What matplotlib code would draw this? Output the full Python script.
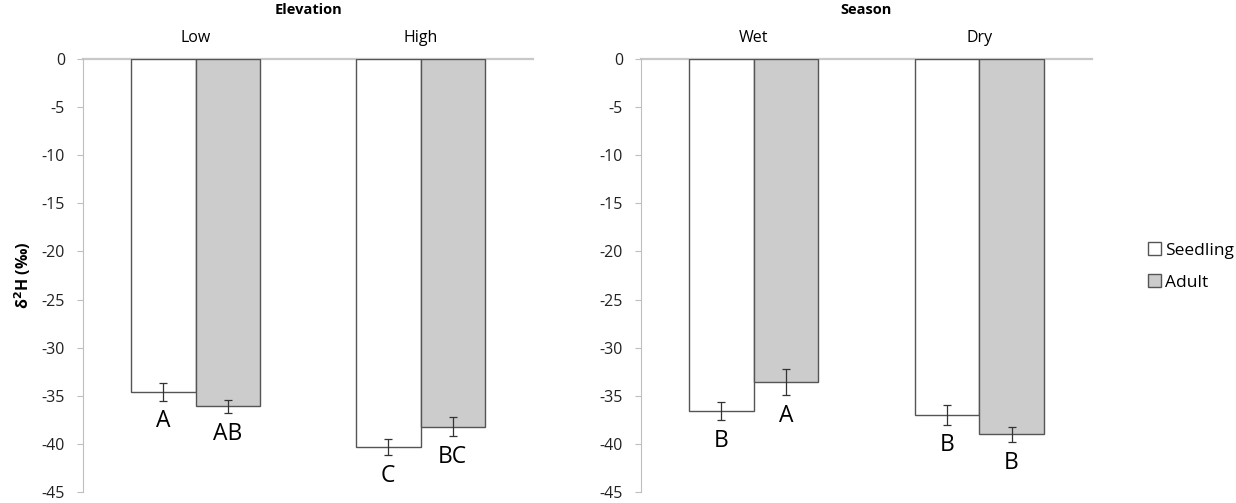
import numpy as np
import matplotlib
matplotlib.use('Agg')
import matplotlib.pyplot as plt
from matplotlib.patches import Patch

plt.rcParams['font.family'] = ['Open Sans', 'DejaVu Sans']

# data
series = ['Seedling', 'Adult']
colors = ['white', '#cccccc']

elev_cats = ['Low', 'High']
elev_mean = [[-34.6, -40.35], [-36.1, -38.2]]   # seedling, adult
elev_err = [[0.9, 0.85], [0.7, 1.0]]
elev_letters = [['A', 'C'], ['AB', 'BC']]

season_cats = ['Wet', 'Dry']
season_mean = [[-36.6, -37.0], [-33.6, -39.0]]
season_err = [[0.95, 1.0], [1.35, 0.8]]
season_letters = [['B', 'B'], ['A', 'B']]

yticks = np.arange(-45, 1, 5)

fig = plt.figure(figsize=(12.36, 5.03), dpi=100)
ax1 = fig.add_axes([83/1236, 1 - 492/503, 450/1236, 433/503])
ax2 = fig.add_axes([641/1236, 1 - 492/503, 451/1236, 433/503])

bw = 0.287  # bar width as fraction of category


def draw(ax, cats, means, errs, letters, title, ylabel=None):
    x = np.arange(len(cats))
    for i in range(len(series)):
        xs = x + (i - 0.5) * bw
        ax.bar(xs, means[i], bw, color=colors[i], edgecolor='#555555',
               linewidth=1.0, zorder=2)
        ax.errorbar(xs, means[i], yerr=errs[i], fmt='none', ecolor='#333333',
                    elinewidth=0.9, capsize=3, capthick=0.9, zorder=3)
        for xx, m, e, lab in zip(xs, means[i], errs[i], letters[i]):
            ax.text(xx, m - e - 0.9, lab, ha='center', va='top', fontsize=16.5,
                    color='black')
    ax.set_xlim(-0.5, len(cats) - 0.5)
    ax.set_ylim(-45, 0)
    ax.set_yticks(yticks)
    ax.set_yticklabels([str(t) for t in yticks])
    ax.xaxis.tick_top()
    ax.set_xticks(x)
    ax.set_xticklabels(cats, fontsize=11.5)
    ax.tick_params(axis='x', length=0, pad=9)
    ax.tick_params(axis='y', length=4, width=0.8, color='#bfbfbf', pad=9,
                   labelsize=11.5, labelcolor='#222222')
    for s in ['right', 'bottom']:
        ax.spines[s].set_visible(False)
    ax.spines['left'].set_color('#bfbfbf')
    ax.spines['top'].set_color('#c8c8c8')
    ax.spines['top'].set_linewidth(1.6)
    ax.spines['top'].set_zorder(1)
    ax.annotate(title, xy=(0.5, 1), xycoords='axes fraction',
                xytext=(0, 35), textcoords='offset points', ha='center',
                va='center', fontsize=10.5, fontweight='bold')
    if ylabel:
        ax.set_ylabel(ylabel, fontsize=11.5, fontweight='bold', labelpad=6)


draw(ax1, elev_cats, elev_mean, elev_err, elev_letters, 'Elevation',
     ylabel='δ$^{\\mathbf{2}}$H (‰)')
draw(ax2, season_cats, season_mean, season_err, season_letters, 'Season')

handles = [Patch(facecolor=c, edgecolor='#555555', linewidth=1.0) for c in colors]
fig.legend(handles, series, loc='center left', bbox_to_anchor=(1132/1236, 0.47),
           frameon=False, fontsize=12.5, handlelength=0.75, handleheight=0.75,
           handletextpad=0.25, labelspacing=0.9)

fig.savefig('out.png', dpi=100)
